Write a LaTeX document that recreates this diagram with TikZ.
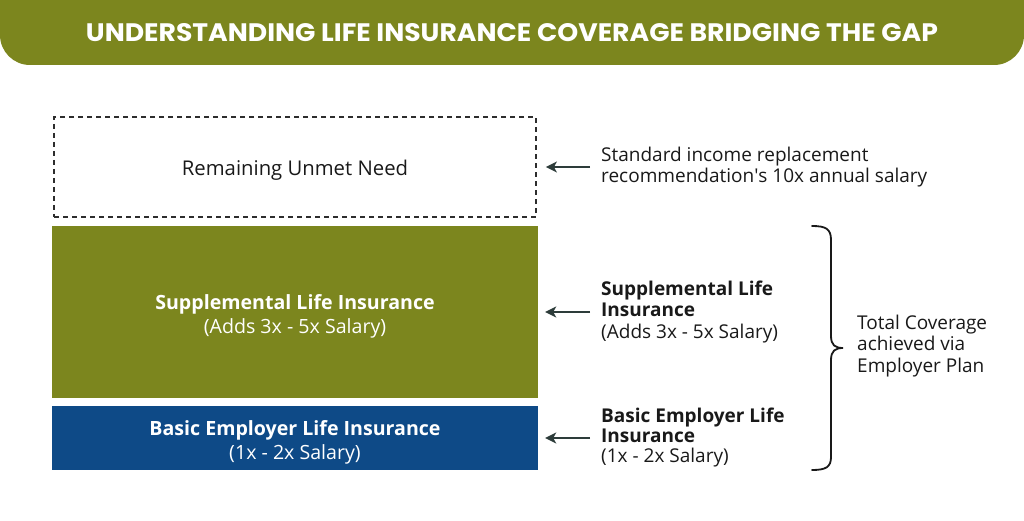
\documentclass[tikz,border=0pt]{standalone}
\usepackage{fontspec}
\setmainfont{Open Sans}
\newfontfamily\titlefont{Poppins}
\usetikzlibrary{arrows.meta}
\definecolor{olivebar}{RGB}{124,134,30}
\definecolor{navybox}{RGB}{14,74,135}
\definecolor{arrowc}{RGB}{45,60,58}
\definecolor{textc}{RGB}{25,25,25}
\definecolor{dashc}{RGB}{45,45,45}
\begin{document}
\begin{tikzpicture}[x=1pt,y=-1pt,
  box/.style={minimum width=486pt, inner sep=0pt},
  boxtext/.style={align=center, text=white, inner sep=0pt, font=\fontsize{19.6}{24}\selectfont},
  lbl/.style={anchor=west, align=left, font=\fontsize{19}{21.5}\selectfont, text=textc, inner sep=0pt},
  arr/.style={-{Stealth[length=11pt,width=11pt,inset=3pt]}, line width=1.8pt, draw=arrowc}]
\useasboundingbox (0,0) rectangle (1024,521);
\begin{scope}
\clip (0,0) rectangle (1024,521);
\fill[olivebar, rounded corners=30pt] (0,-40) -- (0,65) -- (1024,65) -- (1024,-40) -- cycle;
\end{scope}
\node[text=white, inner sep=0pt] (title) at (512,33) {\resizebox{852pt}{18pt}{\titlefont\bfseries UNDERSTANDING LIFE INSURANCE COVERAGE BRIDGING THE GAP}};
% boxes
\node[box, draw=dashc, dash pattern=on 5pt off 4pt, line width=1.8pt, minimum width=482pt, minimum height=100pt] (need) at (295,167) {};
\node[inner sep=0pt, text=textc, font=\fontsize{20.3}{22}\selectfont] (needtxt) at (295,170) {Remaining Unmet Need};
\node[box, fill=olivebar, minimum height=171pt] (supp) at (295,312) {};
\node[boxtext] (supptxt) at (295,316) {{\bfseries Supplemental Life Insurance}\\(Adds 3x - 5x Salary)};
\node[box, fill=navybox, minimum height=64pt] (basic) at (295,438) {};
\node[boxtext] (basictxt) at (295,442) {{\bfseries Basic Employer Life Insurance}\\(1x - 2x Salary)};
% labels
\node[lbl] (t1) at (601,167) {Standard income replacement\\recommendation\textquotesingle s 10x annual salary};
\node[lbl] (t2) at (601,312) {{\bfseries Supplemental Life}\\{\bfseries Insurance}\\(Adds 3x - 5x Salary)};
\node[lbl, font=\fontsize{19}{20}\selectfont] (t3) at (601,438) {{\bfseries Basic Employer Life}\\{\bfseries Insurance}\\(1x - 2x Salary)};
\node[lbl] (t4) at (857,346) {Total Coverage\\achieved via\\Employer Plan};
% arrows
\draw[arr] ([xshift=-11pt]t1.west) -- ([xshift=9pt]need.east);
\draw[arr] ([xshift=-11pt]t2.west) -- ([xshift=7pt]supp.east);
\draw[arr] ([xshift=-11pt]t3.west) -- ([xshift=7pt]basic.east);
% brace
\draw[line width=1.8pt, draw=textc, line cap=round]
  (812,226) .. controls (826,226) and (831,229) .. (831,240) -- (831,336)
  .. controls (831,345) and (835,348) .. (843,348)
  .. controls (835,348) and (831,351) .. (831,360) -- (831,457)
  .. controls (831,467) and (826,470) .. (812,470);
\end{tikzpicture}
\end{document}
